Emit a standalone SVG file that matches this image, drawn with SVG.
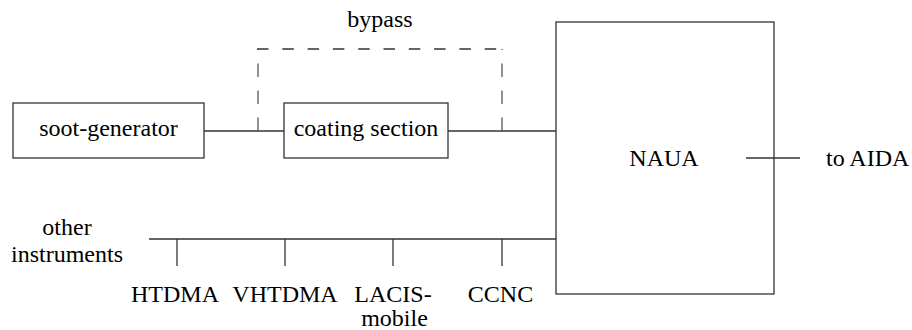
<svg xmlns="http://www.w3.org/2000/svg" width="912" height="330" viewBox="0 0 912 330">
  <style>
    .box { fill: none; stroke: #333333; stroke-width: 1.3; }
    .wire { fill: none; stroke: #333333; stroke-width: 1.3; }
    .dash { fill: none; stroke: #555555; stroke-width: 1.3; stroke-dasharray: 13.5 13.5; }
    .dashh { fill: none; stroke: #333333; stroke-width: 1.3; stroke-dasharray: 11.5 13.8; }
  </style>
  <rect width="912" height="330" fill="#ffffff"/>

  <g id="connectors">
    <!-- main flow line -->
    <line class="wire" x1="204" y1="131" x2="284" y2="131"/>
    <line class="wire" x1="448" y1="131" x2="556" y2="131"/>
    <!-- bypass around the coating section -->
    <line class="dash" x1="258" y1="131" x2="258" y2="49"/>
    <line class="dashh" x1="257" y1="49" x2="502" y2="49"/>
    <line class="dash" x1="502" y1="131" x2="502" y2="49"/>
    <!-- instrument manifold -->
    <line class="wire" x1="149" y1="239" x2="556" y2="239"/>
    <line class="wire" x1="177" y1="239" x2="177" y2="266"/>
    <line class="wire" x1="285" y1="239" x2="285" y2="266"/>
    <line class="wire" x1="393" y1="239" x2="393" y2="266"/>
    <line class="wire" x1="502" y1="239" x2="502" y2="266"/>
    <!-- outlet to AIDA -->
    <line class="wire" x1="746" y1="158" x2="800" y2="158"/>
  </g>

  <g font-family="Liberation Serif, DejaVu Serif, serif" font-size="24" fill="#000000" text-anchor="middle">
    <g id="soot-generator">
      <rect class="box" x="13" y="103" width="191" height="55"/>
      <text x="108.5" y="136">soot-generator</text>
    </g>

    <g id="coating-section">
      <rect class="box" x="284" y="103" width="164" height="55"/>
      <text x="366" y="136">coating section</text>
    </g>

    <g id="bypass-label">
      <text x="380" y="27">bypass</text>
    </g>

    <g id="naua">
      <rect class="box" x="556" y="22" width="218" height="272"/>
      <text x="664" y="166">NAUA</text>
    </g>

    <g id="to-aida">
      <text x="826" y="166" text-anchor="start">to AIDA</text>
    </g>

    <g id="other-instruments">
      <text x="67" y="235">other</text>
      <text x="67" y="262">instruments</text>
    </g>

    <g id="htdma">
      <text x="175" y="302">HTDMA</text>
    </g>
    <g id="vhtdma">
      <text x="285" y="302">VHTDMA</text>
    </g>
    <g id="lacis-mobile">
      <text x="393" y="302">LACIS-</text>
      <text x="394.5" y="326">mobile</text>
    </g>
    <g id="ccnc">
      <text x="500.5" y="302">CCNC</text>
    </g>
  </g>
</svg>
